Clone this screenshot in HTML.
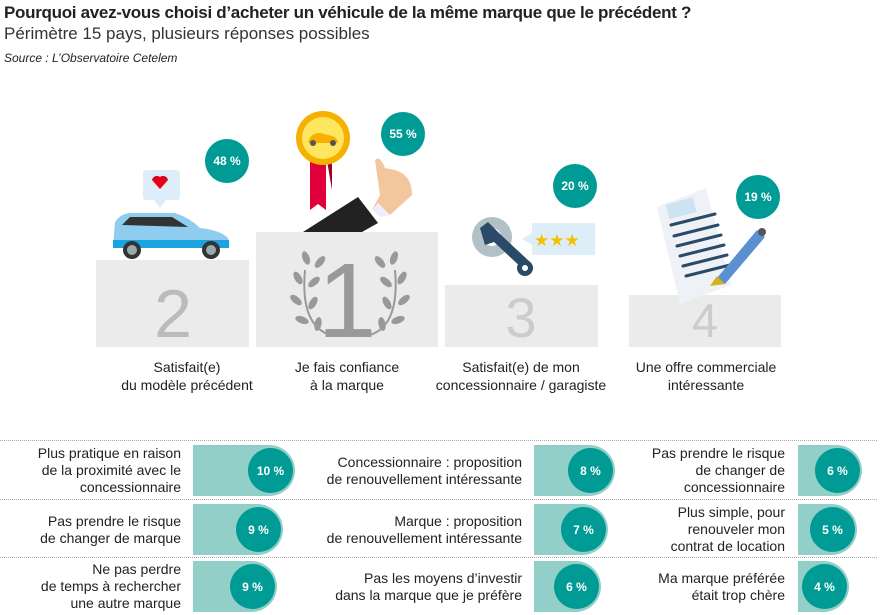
<!DOCTYPE html>
<html><head><meta charset="utf-8"><style>
*{margin:0;padding:0;box-sizing:border-box}
body{width:880px;height:615px;background:#fff;font-family:"Liberation Sans",sans-serif;color:#222;position:relative;overflow:hidden}
.a{position:absolute}
.pod{position:absolute;background:#ebebeb}
.num{position:absolute;line-height:1;font-weight:normal;text-align:center;width:100px}
.c{position:absolute;border-radius:50%;background:#009b95;color:#fff;font-weight:bold;font-size:12px;display:flex;align-items:center;justify-content:center}
.lab{position:absolute;text-align:center;font-size:14px;line-height:18px;width:200px}
.dl{position:absolute;left:0;width:877px;border-top:1px dotted #aaa}
.t{position:absolute;text-align:right;font-size:14px;line-height:17px;display:flex;flex-direction:column;justify-content:center;height:51px}
.bar{position:absolute;height:51px;background:#93cfc9;border-radius:0 26px 26px 0}
</style></head><body>
<div class="a" style="left:4px;top:3px;font-size:17px;font-weight:bold;letter-spacing:-0.3px">Pourquoi avez-vous choisi d’acheter un véhicule de la même marque que le précédent ?</div>
<div class="a" style="left:4px;top:24px;font-size:17px;color:#333">Périmètre 15 pays, plusieurs réponses possibles</div>
<div class="a" style="left:4px;top:51px;font-size:12px;font-style:italic">Source : L’Observatoire Cetelem</div>

<div class="pod" style="left:96px;top:260px;width:153px;height:87px"></div>
<div class="pod" style="left:256px;top:232px;width:182px;height:115px"></div>
<div class="pod" style="left:445px;top:285px;width:153px;height:62px"></div>
<div class="pod" style="left:629px;top:295px;width:152px;height:52px"></div>

<svg class="a" style="left:0;top:100px" width="880" height="247">
<!-- laurel -->
<g fill="none" stroke="#999" stroke-width="2"><path d="M305 170 Q300 225 330 235 M395 170 Q400 225 370 235"/></g>
<g fill="#999">
<ellipse cx="306" cy="158" rx="3.5" ry="7" transform="rotate(-20 306 158)"/><ellipse cx="320" cy="162" rx="3.5" ry="7" transform="rotate(40 320 162)"/>
<ellipse cx="298" cy="178" rx="3.5" ry="7" transform="rotate(-30 298 178)"/><ellipse cx="314" cy="182" rx="3.5" ry="7" transform="rotate(50 314 182)"/>
<ellipse cx="296" cy="200" rx="3.5" ry="7" transform="rotate(-50 296 200)"/><ellipse cx="313" cy="203" rx="3.5" ry="7" transform="rotate(30 313 203)"/>
<ellipse cx="302" cy="220" rx="3.5" ry="7" transform="rotate(-70 302 220)"/><ellipse cx="318" cy="224" rx="3.5" ry="7" transform="rotate(10 318 224)"/>
<ellipse cx="394" cy="158" rx="3.5" ry="7" transform="rotate(20 394 158)"/><ellipse cx="380" cy="162" rx="3.5" ry="7" transform="rotate(-40 380 162)"/>
<ellipse cx="402" cy="178" rx="3.5" ry="7" transform="rotate(30 402 178)"/><ellipse cx="386" cy="182" rx="3.5" ry="7" transform="rotate(-50 386 182)"/>
<ellipse cx="404" cy="200" rx="3.5" ry="7" transform="rotate(50 404 200)"/><ellipse cx="387" cy="203" rx="3.5" ry="7" transform="rotate(-30 387 203)"/>
<ellipse cx="398" cy="220" rx="3.5" ry="7" transform="rotate(70 398 220)"/><ellipse cx="382" cy="224" rx="3.5" ry="7" transform="rotate(-10 382 224)"/>
</g>
<!-- car -->
<rect x="143" y="70" width="37" height="30" rx="3" fill="#ddeef8"/><path d="M154 100 L160 108 L166 100Z" fill="#ddeef8"/>
<path d="M152 80 a5 5 0 0 1 8 -3 a5 5 0 0 1 8 3 l-8 9z" fill="#e2001a"/>
<path d="M113 147 L115 122 Q120 114 130 113 L175 113 Q190 118 200 128 Q220 130 228 138 L229 148Z" fill="#8ecdf0"/>
<path d="M122 125 L130 117 L172 117 L188 127Z" fill="#333"/>
<rect x="113" y="140" width="116" height="8" fill="#1aa3e0"/>
<circle cx="132" cy="150" r="9" fill="#333"/><circle cx="132" cy="150" r="5" fill="#9aa"/>
<circle cx="211" cy="150" r="9" fill="#333"/><circle cx="211" cy="150" r="5" fill="#9aa"/>
<!-- medal -->
<path d="M310 55 L310 110 L318 104 L326 110 L326 55Z" fill="#e2003c"/><path d="M326 55 L332 90 L332 60Z" fill="#a00028"/>
<circle cx="323" cy="38" r="27" fill="#f5b000"/><circle cx="323" cy="38" r="21" fill="#ffe660"/>
<path d="M308 43 Q310 33 320 33 L332 36 Q338 38 338 43Z" fill="#f5b000"/><circle cx="313" cy="43" r="3" fill="#555"/><circle cx="333" cy="43" r="3" fill="#555"/>
<!-- hand -->
<path d="M303 132 L358 97 L378 123 L362 132Z" fill="#222"/>
<path d="M372 110 L380 95 L375 60 Q380 55 385 68 L395 70 Q412 75 412 95 L390 115Z" fill="#f2c79d"/>
<path d="M372 110 L380 117 L390 115 L378 103Z" fill="#eef"/>
<!-- wrench -->
<circle cx="492" cy="137" r="20" fill="#b4c0c8"/><circle cx="492" cy="137" r="9" fill="#fff"/>
<path d="M480 128 L488 122 L500 134 L530 162 L524 170 L494 142 L485 145Z" fill="#2a4a68"/><circle cx="525" cy="168" r="8" fill="#2a4a68"/><circle cx="525" cy="168" r="3" fill="#fff"/>
<rect x="532" y="123" width="63" height="32" rx="2" fill="#ddeef8"/><path d="M532 133 L522 139 L532 145Z" fill="#ddeef8"/>
<text x="534" y="146" font-size="17" fill="#f5c000">★★★</text>
<!-- doc -->
<path d="M657 107 L706 88 L731 185 L680 204Z" fill="#eef2f6"/>
<rect x="667" y="101" width="28" height="15" fill="#cde3f2" transform="rotate(-15 680 108)"/>
<g stroke="#2a4a68" stroke-width="3" stroke-linecap="round"><line x1="671" y1="125" x2="715" y2="114"/><line x1="674" y1="136" x2="718" y2="125"/><line x1="677" y1="146" x2="721" y2="135"/><line x1="680" y1="156" x2="724" y2="145"/><line x1="683" y1="166" x2="727" y2="155"/><line x1="686" y1="176" x2="730" y2="165"/></g>
<path d="M717 178 L757 130 L765 137 L725 184Z" fill="#5b8fd0"/><path d="M710 186 L717 176 L725 184Z" fill="#d4b020"/><circle cx="762" cy="132" r="4" fill="#555"/>
</svg>

<div class="num" style="left:123px;top:280px;font-size:68px;color:#bbb">2</div>
<div class="num" style="left:297px;top:248px;font-size:106px;color:#999">1</div>
<div class="num" style="left:471px;top:290px;font-size:56px;color:#ccc">3</div>
<div class="num" style="left:655px;top:297px;font-size:47px;color:#ccc">4</div>

<div class="c" style="left:205px;top:139px;width:44px;height:44px">48 %</div>
<div class="c" style="left:381px;top:112px;width:44px;height:44px">55 %</div>
<div class="c" style="left:553px;top:164px;width:44px;height:44px">20 %</div>
<div class="c" style="left:736px;top:175px;width:44px;height:44px">19 %</div>

<div class="lab" style="left:87px;top:358px">Satisfait(e)<br>du modèle précédent</div>
<div class="lab" style="left:247px;top:358px">Je fais confiance<br>à la marque</div>
<div class="lab" style="left:421px;top:358px">Satisfait(e) de mon<br>concessionnaire / garagiste</div>
<div class="lab" style="left:606px;top:358px">Une offre commerciale<br>intéressante</div>

<div class="dl" style="top:440px"></div>
<div class="dl" style="top:499px"></div>
<div class="dl" style="top:557px"></div>

<div class="t" style="left:0;width:181px;top:445px">Plus pratique en raison<br>de la proximité avec le<br>concessionnaire</div>
<div class="t" style="left:0;width:181px;top:504px">Pas prendre le risque<br>de changer de marque</div>
<div class="t" style="left:0;width:181px;top:561px">Ne pas perdre<br>de temps à rechercher<br>une autre marque</div>
<div class="t" style="left:250px;width:272px;top:445px">Concessionnaire : proposition<br>de renouvellement intéressante</div>
<div class="t" style="left:250px;width:272px;top:504px">Marque : proposition<br>de renouvellement intéressante</div>
<div class="t" style="left:250px;width:272px;top:561px">Pas les moyens d’investir<br>dans la marque que je préfère</div>
<div class="t" style="left:600px;width:185px;top:445px">Pas prendre le risque<br>de changer de<br>concessionnaire</div>
<div class="t" style="left:600px;width:185px;top:504px">Plus simple, pour<br>renouveler mon<br>contrat de location</div>
<div class="t" style="left:600px;width:185px;top:561px">Ma marque préférée<br>était trop chère</div>

<div class="bar" style="left:193px;top:445px;width:102px"></div><div class="c" style="left:248px;top:448px;width:45px;height:45px">10 %</div>
<div class="bar" style="left:193px;top:504px;width:90px"></div><div class="c" style="left:236px;top:507px;width:45px;height:45px">9 %</div>
<div class="bar" style="left:193px;top:561px;width:84px"></div><div class="c" style="left:230px;top:564px;width:45px;height:45px">9 %</div>
<div class="bar" style="left:534px;top:445px;width:81px"></div><div class="c" style="left:568px;top:448px;width:45px;height:45px">8 %</div>
<div class="bar" style="left:534px;top:504px;width:74px"></div><div class="c" style="left:561px;top:507px;width:45px;height:45px">7 %</div>
<div class="bar" style="left:534px;top:561px;width:67px"></div><div class="c" style="left:554px;top:564px;width:45px;height:45px">6 %</div>
<div class="bar" style="left:798px;top:445px;width:64px"></div><div class="c" style="left:815px;top:448px;width:45px;height:45px">6 %</div>
<div class="bar" style="left:798px;top:504px;width:59px"></div><div class="c" style="left:810px;top:507px;width:45px;height:45px">5 %</div>
<div class="bar" style="left:798px;top:561px;width:51px"></div><div class="c" style="left:802px;top:564px;width:45px;height:45px">4 %</div>
</body></html>
